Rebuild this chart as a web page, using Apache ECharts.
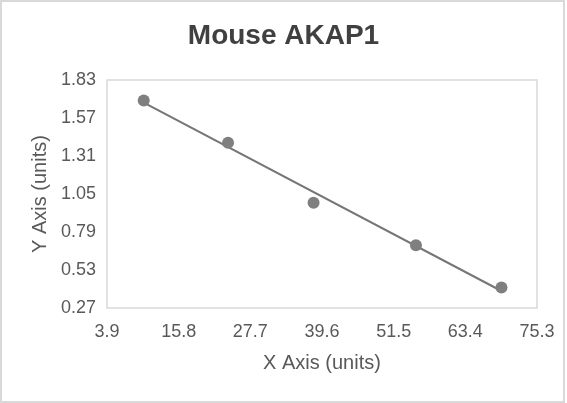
<!DOCTYPE html>
<html>
<head>
<meta charset="utf-8">
<script src="https://cdn.jsdelivr.net/npm/echarts@6/dist/echarts.min.js"></script>
<style>
  html, body { margin: 0; padding: 0; background: #fff; }
  #chart { width: 567px; height: 403px; }
</style>
</head>
<body>
<div id="chart"></div>
<script>
// values
var xValues = [10.0, 24.0, 38.2, 55.2, 69.4];
var yValues = [1.69, 1.40, 0.99, 0.70, 0.41];
var xTicks = [3.9, 15.8, 27.7, 39.6, 51.5, 63.4, 75.3];
var yTicks = [0.27, 0.53, 0.79, 1.05, 1.31, 1.57, 1.83];

var points = [];
for (var i = 0; i < xValues.length; i++) {
    points.push([xValues[i], yValues[i]]);
}

// linear trendline (least squares) over the points
function trendLine(xs, ys) {
    var n = xs.length, mx = 0, my = 0;
    for (var i = 0; i < n; i++) { mx += xs[i]; my += ys[i]; }
    mx /= n; my /= n;
    var sxy = 0, sxx = 0;
    for (var j = 0; j < n; j++) {
        sxy += (xs[j] - mx) * (ys[j] - my);
        sxx += (xs[j] - mx) * (xs[j] - mx);
    }
    var slope = sxy / sxx;
    var x0 = Math.min.apply(null, xs), x1 = Math.max.apply(null, xs);
    return [[x0, my + slope * (x0 - mx)], [x1, my + slope * (x1 - mx)]];
}

var font = 'Liberation Sans, Arial, sans-serif';

var chart = echarts.init(document.getElementById('chart'));
chart.setOption({
    animation: false,
    backgroundColor: '#fff',
    graphic: [{
        type: 'rect',
        shape: { x: 1, y: 1, width: 563, height: 401 },
        style: { fill: 'none', stroke: '#d9d9d9', lineWidth: 2 }
    }],
    title: {
        text: 'Mouse AKAP1',
        left: 'center',
        top: 17,
        textStyle: { fontFamily: font, fontSize: 28, fontWeight: 'bold', color: '#404040' }
    },
    grid: {
        left: 107,
        right: 30,
        top: 80,
        bottom: 95,
        show: true,
        borderColor: '#d9d9d9',
        borderWidth: 1.5
    },
    xAxis: {
        type: 'value',
        min: xTicks[0],
        max: xTicks[xTicks.length - 1],
        interval: xTicks[1] - xTicks[0],
        name: 'X Axis (units)',
        nameLocation: 'middle',
        nameGap: 45,
        nameTextStyle: { fontFamily: font, fontSize: 20, color: '#595959' },
        axisLine: { show: false },
        axisTick: { show: false },
        splitLine: { show: false },
        axisLabel: {
            margin: 15,
            fontFamily: font,
            fontSize: 18,
            color: '#595959',
            formatter: function (v) { return v.toFixed(1); }
        }
    },
    yAxis: {
        type: 'value',
        min: yTicks[0],
        max: yTicks[yTicks.length - 1],
        interval: yTicks[1] - yTicks[0],
        name: 'Y Axis (units)',
        nameLocation: 'middle',
        nameGap: 56,
        nameTextStyle: { fontFamily: font, fontSize: 20, color: '#595959' },
        axisLine: { show: false },
        axisTick: { show: false },
        splitLine: { show: false },
        axisLabel: {
            margin: 11,
            fontFamily: font,
            fontSize: 18,
            color: '#595959',
            formatter: function (v) { return v.toFixed(2); }
        }
    },
    series: [{
        name: 'trend',
        type: 'line',
        data: trendLine(xValues, yValues),
        showSymbol: false,
        symbol: 'none',
        lineStyle: { color: '#767676', width: 2 },
        z: 2
    }, {
        name: 'points',
        type: 'scatter',
        data: points,
        symbolSize: 12,
        itemStyle: { color: '#7f7f7f', opacity: 1 },
        z: 3
    }]
});
</script>
</body>
</html>
